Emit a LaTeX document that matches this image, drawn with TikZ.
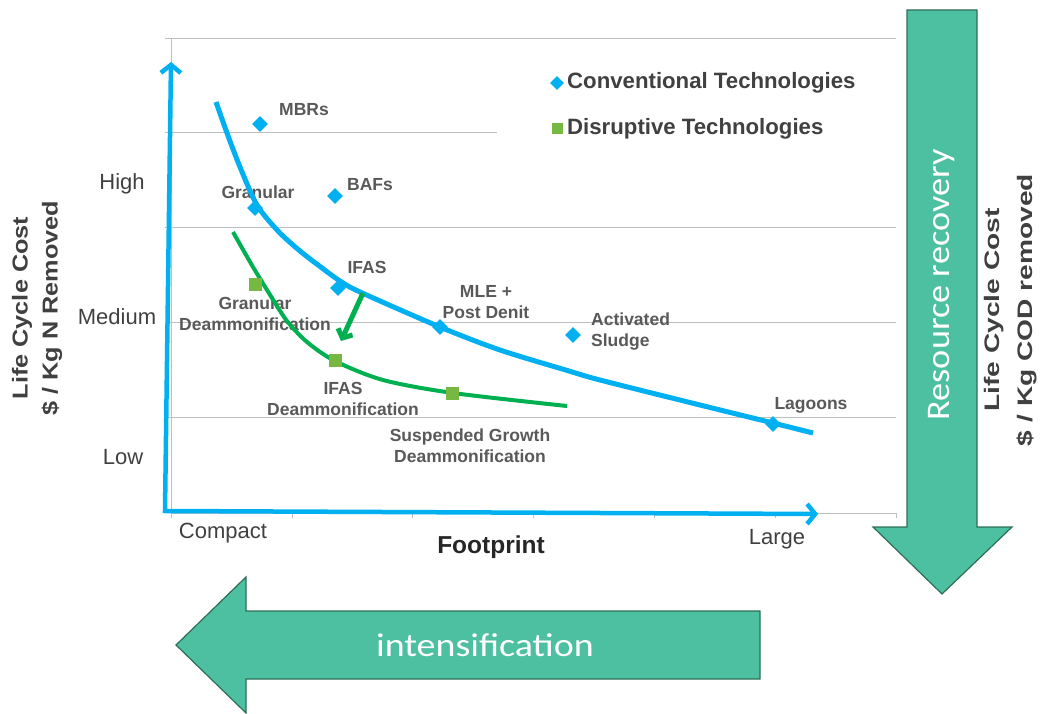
\documentclass[tikz,border=0pt]{standalone}
\usepackage{fontspec}
\setmainfont{Liberation Sans}
\newfontfamily\calib{Carlito}
\usetikzlibrary{arrows.meta,shapes.geometric}
\definecolor{cblue}{RGB}{0,176,240}
\definecolor{cgreen}{RGB}{0,176,80}
\definecolor{sqgreen}{RGB}{118,184,66}
\definecolor{afill}{RGB}{76,192,161}
\definecolor{aedge}{RGB}{46,110,86}
\definecolor{lblgray}{RGB}{89,89,89}
\definecolor{txtgray}{RGB}{64,64,64}
\definecolor{gridgray}{RGB}{191,191,191}
\begin{document}
\begin{tikzpicture}[x=1pt,y=-1pt,
  gridln/.style={gridgray,line width=1pt},
  conv/.style={diamond,fill=cblue,minimum size=16pt,inner sep=0pt},
  disr/.style={rectangle,fill=sqgreen,minimum size=13pt,inner sep=0pt},
  lbl/.style={text=lblgray,font=\bfseries\fontsize{17.5}{21}\selectfont,inner sep=0pt,align=center},
  legtxt/.style={text=txtgray,font=\bfseries\fontsize{22.2}{24}\selectfont,inner sep=0pt,anchor=west},
  lvl/.style={text=txtgray,font=\fontsize{22}{24}\selectfont,inner sep=0pt},
  axis/.style={cblue,line width=4.5pt,line join=miter},
  bigarrow/.style={fill=afill,draw=aedge,line width=1.2pt,line join=miter},
  bigtxt/.style={text=white,font=\calib\fontsize{33}{36}\selectfont,inner sep=0pt},
  sidelbl/.style={text=txtgray,inner sep=0pt,align=center,rotate=90}
]
\useasboundingbox (0,0) rectangle (1042,714);

% grid
\draw[gridln] (165,39) -- (896,39);
\draw[gridln] (165,133) -- (497,133);
\draw[gridln] (165,228) -- (896,228);
\draw[gridln] (165,322) -- (896,322);
\draw[gridln] (165,417) -- (896,417);
\draw[gridln] (171,513) -- (896,513);
\draw[gridln] (171,39) -- (171,518);
\foreach \tx in {292,412,533,654,775,896} \draw[gridln] (\tx,513) -- (\tx,518);

% labels
\node[lbl] (mbrl) at (304,110) {MBRs};
\node[lbl] (bafl) at (370,185) {BAFs};
\node[lbl] (gral) at (258,192) {Granular};
\node[lbl] (ifasl) at (367,267) {IFAS};
\node[lbl] (mlel) at (486,302) {MLE +\\Post Denit};
\node[lbl,anchor=west,align=left] (asl) at (591,332) {Activated\\Sludge};
\node[lbl] (lagl) at (811,405) {Lagoons};
\node[lbl] (gdl) at (255,314) {Granular\\Deammonification};
\node[lbl] (idl) at (343,399) {IFAS\\Deammonification};
\node[lbl] (sdl) at (470,446) {Suspended Growth\\Deammonification};

% curves
\draw[cblue,line width=5pt] plot[smooth,tension=0.5] coordinates {(216,102) (227,133) (240,167) (257,205) (278,231) (300,251) (322,268) (340,281) (360,292) (440,327) (500,350) (569,371) (600,380) (700,405) (773,423) (813,433)};
\draw[cgreen,line width=4pt] plot[smooth,tension=0.5] coordinates {(233,232) (253,267) (272,298) (287,321) (307,342) (335,361) (383,380) (453,393) (567,406)};

% points
\node[conv] (mbr) at (260,124) {};
\node[conv] (baf) at (335,196) {};
\node[conv] (gra) at (255,208) {};
\node[conv] (ifas) at (338,288) {};
\node[conv] (mle) at (440,327) {};
\node[conv] (as) at (573,335) {};
\node[conv] (lag) at (773,424) {};
\node[disr] (gd) at (255,285) {};
\node[disr] (id) at (335,360) {};
\node[disr] (sd) at (452,393) {};

% small green arrow
\coordinate (ga1) at (363,293);
\coordinate (ga2) at (341,341);
\draw[cgreen,line width=5pt,-{Straight Barb[length=7pt,width=16pt]}] (ga1) -- (ga2);

% legend
\node[conv,minimum size=14pt] (legc) at (557,83) {};
\node[legtxt] (legct) at (567,83) {Conventional Technologies};
\node[disr,minimum size=11pt] (legd) at (557,129) {};
\node[legtxt] (legdt) at (567,129) {Disruptive Technologies};

% axes
\coordinate (org) at (165,511);
\coordinate (ytop) at (171,62);
\coordinate (xend) at (818,514);
\draw[axis,{Straight Barb[length=8pt,width=20pt]}-{Straight Barb[length=8pt,width=20pt]}] (ytop) -- (org) -- (xend);

% axis texts
\node[lvl] (high) at (122,184) {High};
\node[lvl] (med) at (117,317) {Medium};
\node[lvl] (low) at (123,457) {Low};
\node[lvl] (cmp) at (223,533) {Compact};
\node[lvl] (lrg) at (777,539) {Large};
\node[text={rgb,255:red,38;green,38;blue,38},font=\bfseries\fontsize{24.5}{26}\selectfont,inner sep=0pt] (fp) at (491,547) {Footprint};

\node[sidelbl,font=\bfseries\fontsize{21.6}{30}\selectfont] (ylab) at (37,308) {\scalebox{1.17}[1]{Life Cycle Cost}\\\scalebox{1.17}[1]{\$ / Kg N Removed}};
\node[sidelbl,font=\bfseries\fontsize{21}{33}\selectfont] (ylab2) at (1011,310) {\scalebox{1.34}[1]{Life Cycle Cost}\\\scalebox{1.34}[1]{\$ / Kg COD removed}};

% big arrows
\draw[bigarrow] (907,10) -- (977,10) -- (977,527) -- (1012,527) -- (942,594) -- (873,527) -- (907,527) -- cycle;
\node[bigtxt,rotate=90] (rr) at (942,285) {\scalebox{1.1}[1]{Resource recovery}};
\draw[bigarrow] (760,611) -- (246,611) -- (246,577) -- (176,645) -- (246,713) -- (246,679) -- (760,679) -- cycle;
\node[bigtxt] (int) at (485,645) {\scalebox{1.15}[1]{intensification}};
\end{tikzpicture}
\end{document}
